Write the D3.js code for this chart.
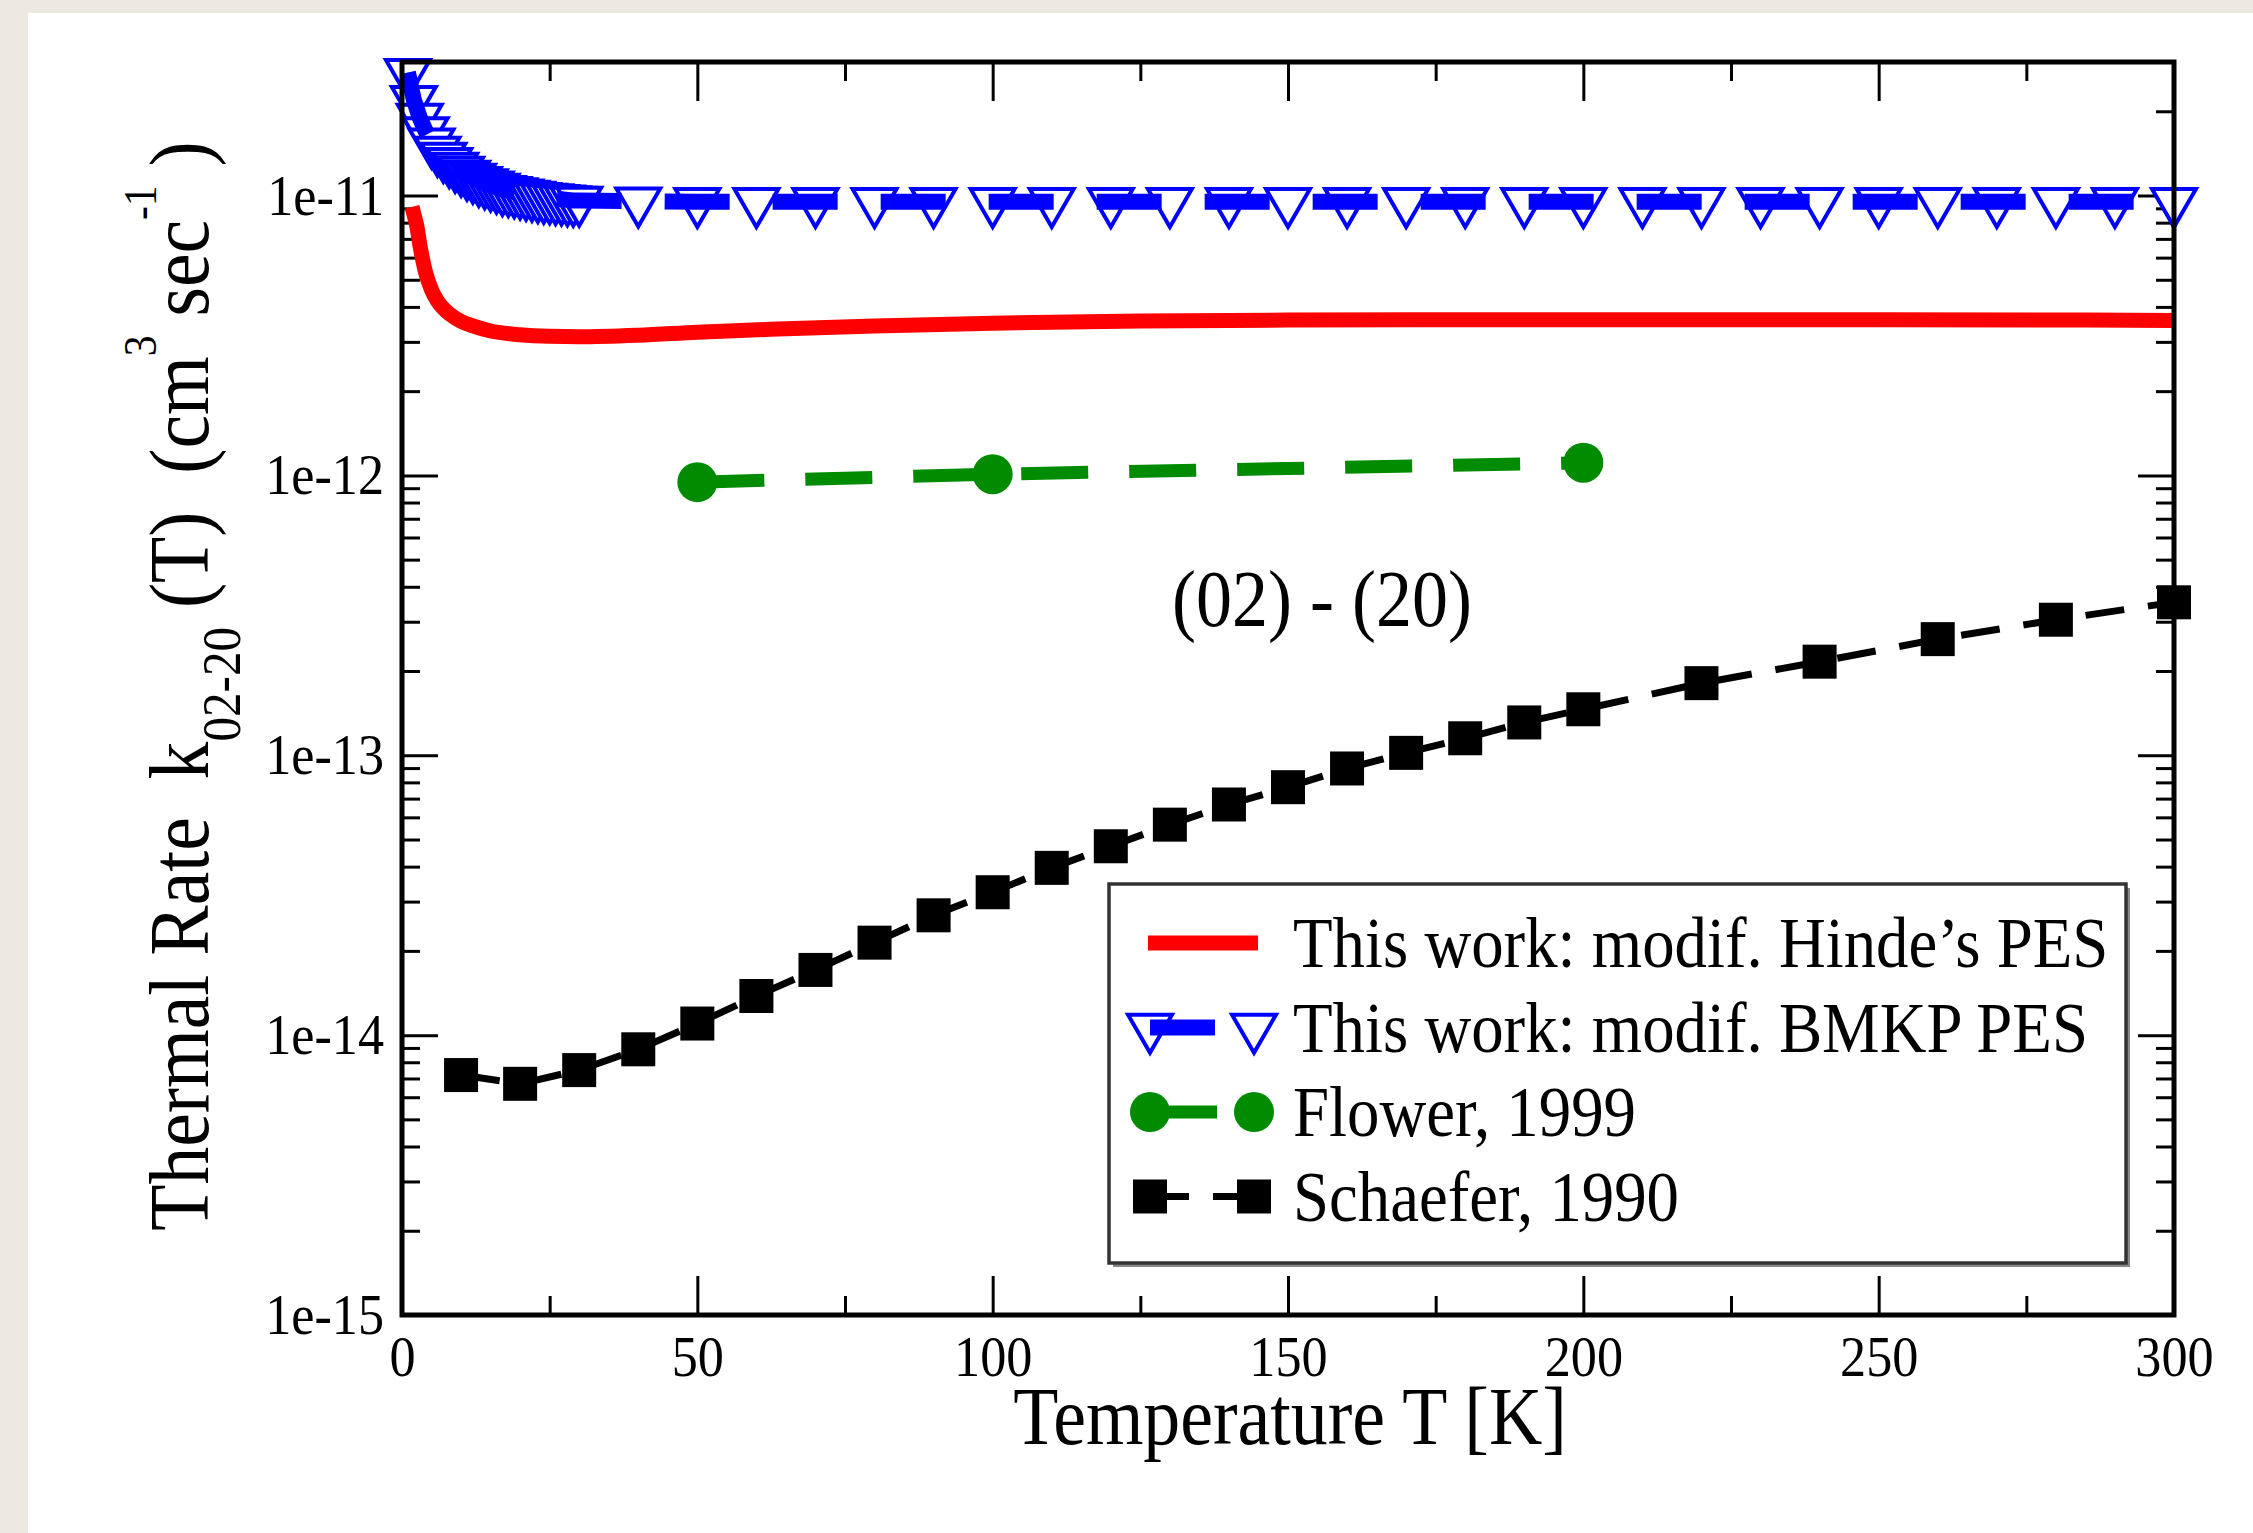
<!DOCTYPE html>
<html>
<head>
<meta charset="utf-8">
<script src="https://cdn.jsdelivr.net/npm/d3@7"></script>
<style>
  html, body { margin: 0; padding: 0; background: #fff; }
  svg { display: block; }
  text { font-family: "Liberation Serif", "Times New Roman", serif; fill: #000; white-space: pre; }
</style>
</head>
<body>
<svg id="chart" width="2253" height="1533"></svg>
<script>
// thermal rate k_02-20 (cm^3 s^-1) against temperature
const hindeT = [1.7, 2, 2.5, 3, 3.5, 4, 5, 6, 7, 8, 10, 12, 15, 20, 25, 30, 40, 50, 65, 80, 100, 125, 150, 200, 250, 300];
const hindeK = [9.1e-12, 8.6e-12, 7.8e-12, 6.7e-12, 5.9e-12, 5.3e-12, 4.6e-12, 4.2e-12, 3.95e-12, 3.78e-12,
  3.55e-12, 3.42e-12, 3.28e-12, 3.18e-12, 3.14e-12, 3.13e-12, 3.17e-12, 3.25e-12, 3.34e-12, 3.42e-12,
  3.5e-12, 3.56e-12, 3.59e-12, 3.6e-12, 3.6e-12, 3.58e-12];

const bmkpT = [1, 2, 3, 4, 5, 6, 7, 8, 9, 10, 11, 12, 13, 14, 15, 16, 17, 18, 19, 20,
  21, 22, 23, 24, 25, 26, 27, 28, 29, 30, 40, 50, 60, 70, 80, 90, 100, 110, 120, 130,
  140, 150, 160, 170, 180, 190, 200, 210, 220, 230, 240, 250, 260, 270, 280, 290, 300];
const bmkpK = [2.75e-11, 2.2e-11, 1.9e-11, 1.7e-11, 1.55e-11, 1.45e-11, 1.38e-11, 1.32e-11, 1.27e-11, 1.23e-11,
  1.19e-11, 1.16e-11, 1.13e-11, 1.11e-11, 1.09e-11, 1.07e-11, 1.05e-11, 1.04e-11, 1.03e-11, 1.02e-11,
  1.01e-11, 1.0e-11, 9.9e-12, 9.85e-12, 9.8e-12, 9.75e-12, 9.7e-12, 9.65e-12, 9.6e-12, 9.6e-12,
  9.55e-12, 9.5e-12, 9.5e-12, 9.5e-12, 9.5e-12, 9.5e-12, 9.5e-12, 9.5e-12, 9.5e-12, 9.5e-12,
  9.5e-12, 9.5e-12, 9.5e-12, 9.5e-12, 9.5e-12, 9.5e-12, 9.5e-12, 9.5e-12, 9.5e-12, 9.5e-12,
  9.5e-12, 9.5e-12, 9.5e-12, 9.5e-12, 9.5e-12, 9.5e-12, 9.5e-12];

const flowerT = [50, 100, 200];
const flowerK = [9.46e-13, 1.01e-12, 1.11e-12];

const schaeferT = [10, 20, 30, 40, 50, 60, 70, 80, 90, 100, 110, 120, 130, 140, 150,
  160, 170, 180, 190, 200, 220, 240, 260, 280, 300];
const schaeferK = [7.2e-15, 6.7e-15, 7.5e-15, 8.9e-15, 1.1e-14, 1.38e-14, 1.71e-14, 2.14e-14, 2.68e-14, 3.24e-14,
  3.96e-14, 4.73e-14, 5.65e-14, 6.67e-14, 7.69e-14, 8.97e-14, 1.02e-13, 1.15e-13, 1.31e-13, 1.46e-13,
  1.81e-13, 2.16e-13, 2.6e-13, 3.05e-13, 3.52e-13];

const xTicks = [0, 50, 100, 150, 200, 250, 300];
const yTicks = [1e-15, 1e-14, 1e-13, 1e-12, 1e-11];
const legendLabels = ["This work: modif. Hinde\u2019s PES", "This work: modif. BMKP PES", "Flower, 1999", "Schaefer, 1990"];

const W = 2253, H = 1533;
const plot = { left: 402, right: 2174, top: 62, bottom: 1315 };
const SX = 0.9; // the source text is a bit condensed

const svg = d3.select("#chart");
svg.append("rect").attr("width", W).attr("height", H).attr("fill", "#fff");
svg.append("rect").attr("width", 28).attr("height", H).attr("fill", "#ede9e0");
svg.append("rect").attr("width", W).attr("height", 13).attr("fill", "#ede9e0");

const x = d3.scaleLinear().domain([0, 300]).range([plot.left, plot.right]);
const y = d3.scaleLog().domain([1e-15, 3e-11]).range([plot.bottom, plot.top]);

const minorX = d3.range(25, 300, 50);
const minorY = [];
for (let e = -15; e <= -12; e++) for (let m = 2; m <= 9; m++) minorY.push(m * Math.pow(10, e));
minorY.push(2e-11);

function addText(parent, px, py, str, size, anchor, rot) {
  return parent.append("text")
    .attr("transform", `translate(${px},${py}) rotate(${rot || 0}) scale(${SX},1)`)
    .attr("text-anchor", anchor)
    .style("font-size", size + "px")
    .text(str);
}

function axisGroup(axis, tx, ty, size) {
  const g = svg.append("g").attr("transform", `translate(${tx},${ty})`).call(axis);
  g.select(".domain").remove();
  g.selectAll("line").attr("stroke", "#000").attr("stroke-width", 3);
  g.selectAll("text").style("font-size", (size || 58) + "px").attr("transform", `scale(${SX},1)`);
  return g;
}

// x axes (bottom with labels, top mirrored)
axisGroup(d3.axisBottom(x).tickValues(xTicks).tickSizeInner(-39).tickSizeOuter(0).tickPadding(20), 0, plot.bottom);
axisGroup(d3.axisBottom(x).tickValues(minorX).tickFormat("").tickSizeInner(-19).tickSizeOuter(0), 0, plot.bottom);
axisGroup(d3.axisTop(x).tickValues(xTicks).tickFormat("").tickSizeInner(-39).tickSizeOuter(0), 0, plot.top);
axisGroup(d3.axisTop(x).tickValues(minorX).tickFormat("").tickSizeInner(-19).tickSizeOuter(0), 0, plot.top);

// y axes
axisGroup(d3.axisLeft(y).tickValues(yTicks).tickFormat(d => "1e" + Math.round(Math.log10(d)))
  .tickSizeInner(-36).tickSizeOuter(0).tickPadding(20), plot.left, 0);
axisGroup(d3.axisLeft(y).tickValues(minorY).tickFormat("").tickSizeInner(-18).tickSizeOuter(0), plot.left, 0);
axisGroup(d3.axisRight(y).tickValues(yTicks).tickFormat("").tickSizeInner(-36).tickSizeOuter(0), plot.right, 0);
axisGroup(d3.axisRight(y).tickValues(minorY).tickFormat("").tickSizeInner(-18).tickSizeOuter(0), plot.right, 0);

svg.append("clipPath").attr("id", "clip").append("rect")
  .attr("x", plot.left).attr("y", plot.top)
  .attr("width", plot.right - plot.left).attr("height", plot.bottom - plot.top);

const line = d3.line().x(d => x(d[0])).y(d => y(d[1]));
const smooth = d3.line().x(d => x(d[0])).y(d => y(d[1])).curve(d3.curveMonotoneX);

const series = [
  { name: legendLabels[0], data: d3.zip(hindeT, hindeK), color: "#ff0000", width: 15, dash: null, marker: null, gen: smooth },
  { name: legendLabels[1], data: d3.zip(bmkpT, bmkpK), color: "#0000ff", width: 16, dash: "65,43", marker: "tri", gen: line },
  { name: legendLabels[2], data: d3.zip(flowerT, flowerK), color: "#008b00", width: 13, dash: "67,41", marker: "circle", gen: line },
  { name: legendLabels[3], data: d3.zip(schaeferT, schaeferK), color: "#000", width: 7, dash: "39,24", marker: "square", gen: line }
];

const triPath = d3.symbol().type(d3.symbolTriangle).size(834)();

function drawMarkers(g, pts, s) {
  if (s.marker === "tri") {
    g.selectAll(null).data(pts).join("path")
      .attr("d", triPath)
      .attr("transform", d => `translate(${d[0]},${d[1]}) rotate(180)`)
      .attr("fill", "#fff").attr("stroke", s.color).attr("stroke-width", 4);
  } else if (s.marker === "circle") {
    g.selectAll(null).data(pts).join("circle")
      .attr("cx", d => d[0]).attr("cy", d => d[1]).attr("r", 20)
      .attr("fill", s.color);
  } else if (s.marker === "square") {
    g.selectAll(null).data(pts).join("rect")
      .attr("x", d => d[0] - 17).attr("y", d => d[1] - 17)
      .attr("width", 34).attr("height", 34)
      .attr("fill", s.color);
  }
}

function drawLine(g, d, s) {
  g.append("path").attr("d", d)
    .attr("fill", "none").attr("stroke", s.color).attr("stroke-width", s.width)
    .attr("stroke-dasharray", s.dash);
}

const marks = svg.append("g");
series.forEach(s => {
  const pts = s.data.map(d => [x(d[0]), y(d[1])]);
  const g = marks.append("g");
  if (s.marker === "tri") {
    // open triangles sit under the thick dashed line
    drawMarkers(g, pts, s);
    drawLine(g.append("g").attr("clip-path", "url(#clip)"), s.gen(s.data), s);
  } else {
    drawLine(g.append("g").attr("clip-path", "url(#clip)"), s.gen(s.data), s);
    drawMarkers(g, pts, s);
  }
});

// frame
svg.append("rect")
  .attr("x", plot.left).attr("y", plot.top)
  .attr("width", plot.right - plot.left).attr("height", plot.bottom - plot.top)
  .attr("fill", "none").attr("stroke", "#000").attr("stroke-width", 5);

// axis titles
addText(svg, (plot.left + plot.right) / 2 + 2, 1444, "Temperature T [K]", 82, "middle");

const F = 84;
const yt = svg.append("text")
  .attr("transform", `translate(208,686) rotate(-90) scale(${SX},1)`)
  .attr("text-anchor", "middle")
  .style("font-size", F + "px");
yt.append("tspan").text("Thermal Rate  k");
yt.append("tspan").attr("dy", 0.38 * F).style("font-size", 0.65 * F + "px").text("02-20");
yt.append("tspan").attr("dy", -0.38 * F).text(" (T)  (cm");
yt.append("tspan").attr("dy", -0.62 * F).style("font-size", 0.55 * F + "px").text("3");
yt.append("tspan").attr("dy", 0.62 * F).text(" sec");
yt.append("tspan").attr("dy", -0.62 * F).style("font-size", 0.55 * F + "px").text("-1");
yt.append("tspan").attr("dy", 0.62 * F).text(" )");

addText(svg, 1322, 626, "(02) - (20)", 80, "middle");

// legend
const lg = { x0: 1109, y0: 884, x1: 2126, y1: 1263, rowTop: 943, rowGap: 84.5, sx0: 1150, sx1: 1254, tx: 1293 };
svg.append("rect").attr("x", lg.x0 + 4).attr("y", lg.y0 + 4)
  .attr("width", lg.x1 - lg.x0).attr("height", lg.y1 - lg.y0).attr("fill", "#888");
svg.append("rect").attr("x", lg.x0).attr("y", lg.y0)
  .attr("width", lg.x1 - lg.x0).attr("height", lg.y1 - lg.y0)
  .attr("fill", "#fff").attr("stroke", "#333").attr("stroke-width", 3.5);

series.forEach((s, i) => {
  const ry = lg.rowTop + i * lg.rowGap;
  const g = svg.append("g");
  const seg = `M${lg.sx0 - (s.marker ? 0 : 2)},${ry}H${lg.sx1 + (s.marker ? 0 : 4)}`;
  const ends = [[lg.sx0, ry], [lg.sx1, ry]];
  if (s.marker === "tri") {
    drawMarkers(g, ends, s);
    drawLine(g, seg, s);
  } else {
    drawLine(g, seg, s);
    if (s.marker) drawMarkers(g, ends, s);
  }
  addText(svg, lg.tx, ry + 24, s.name, 72, "start");
});
</script>
</body>
</html>
